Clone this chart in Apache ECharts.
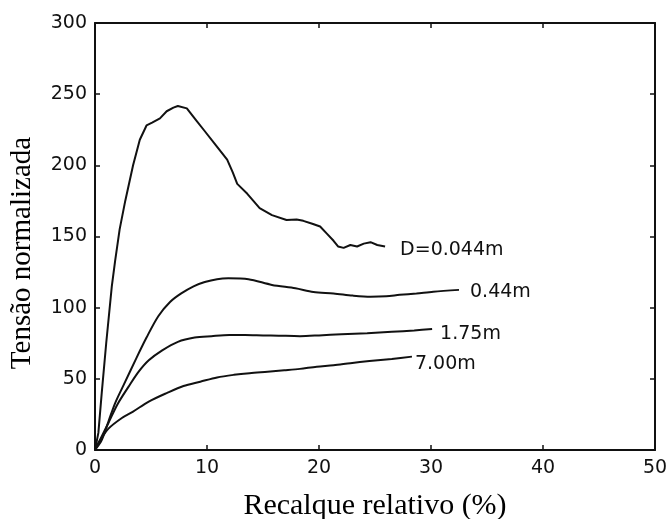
<!DOCTYPE html>
<html>
<head>
<meta charset="utf-8">
<script src="https://cdn.jsdelivr.net/npm/echarts@6/dist/echarts.min.js"></script>
<style>
  html, body { margin: 0; padding: 0; background: #ffffff; }
  #chart { width: 670px; height: 519px; }
</style>
</head>
<body>
<div id="chart"></div>
<script>
// Axis settings
const xTicks = [0, 10, 20, 30, 40, 50];
const yTicks = [0, 50, 100, 150, 200, 250, 300];
const xTitle = 'Recalque relativo (%)';
const yTitle = 'Tensão normalizada';

// Series names (curve labels)
const seriesNames = ['D=0.044m', '0.44m', '1.75m', '7.00m'];

// D = 0.044 m  [relative settlement %, normalized stress]
const curveD0044 = [
  [0,0],[0.3,12],[0.6,40],[1.0,75],[1.5,115],[1.8,133],[2.2,155],[2.7,175],[3.4,200],
  [4.0,218],[4.6,228],[5.1,230],[5.8,233],[6.4,238],[7.0,240.5],[7.4,241.7],[8.2,240],
  [9.0,232],[9.7,225],[10.8,214],[11.8,204],[12.3,195],[12.7,187],[13.6,180],[14.7,170],
  [15.8,165],[17.1,161.6],[18.0,162],[18.6,161],[19.4,159],[20.1,157],[20.7,152],
  [21.3,147],[21.7,143],[22.2,142],[22.8,144],[23.4,143],[24.0,145],[24.6,146],
  [25.2,144],[25.9,143]
];
// D = 0.44 m
const curve044 = [
  [0,0],[0.6,7],[1.2,20],[1.8,33],[2.7,48],[3.6,63],[4.6,79],[5.65,94],[6.7,104],
  [7.7,110],[8.8,115],[9.8,118],[10.9,120],[11.9,120.6],[13.7,120],[15.8,116],
  [17.9,113.6],[19.5,111],[21.3,110],[23.0,108.5],[24.6,107.7],[26.0,108],[27.2,109],
  [28.7,110],[30.2,111.2],[32.5,112.5]
];
// D = 1.75 m
const curve175 = [
  [0,0],[0.5,8],[1.2,19],[2.0,32],[3.0,44.5],[3.9,55],[4.8,63],[6.0,70],[7.4,76],
  [8.9,79],[10.4,80],[12.0,80.8],[13.4,80.8],[15.0,80.5],[16.4,80.3],[18.3,80],
  [20.0,80.5],[22.0,81.3],[24.3,82],[26.5,83],[28.5,84],[30.1,85]
];
// D = 7.00 m
const curve700 = [
  [0,0],[0.4,6],[1.2,15],[2.4,22.5],[3.4,27],[4.8,34],[6.4,40],[7.9,45],[9.4,48],
  [10.9,51],[12.4,52.8],[13.8,54],[15.4,55],[16.9,56],[18.3,57],[19.8,58.5],[21.3,59.5],
  [22.8,61],[24.5,62.5],[26.5,64],[28.3,65.6]
];

const curves = [curveD0044, curve044, curve175, curve700];
const labelDistance = [15, 11, 8, 3];
const labelOffsetY = [4, 2, 5, 7];
const smoothness = [false, 0.3, 0.3, 0.3];

const chart = echarts.init(document.getElementById('chart'), null, { renderer: 'canvas' });

const ink = '#111111';
const tickFont = { fontFamily: 'DejaVu Sans', fontSize: 19, color: ink };

function baseAxis(extra) {
  return Object.assign({
    type: 'value',
    axisLine: { show: true, onZero: false, lineStyle: { color: ink, width: 2 } },
    axisTick: { show: true, inside: true, length: 5, lineStyle: { color: ink, width: 1.5 } },
    splitLine: { show: false }
  }, extra);
}

const option = {
  backgroundColor: '#ffffff',
  animation: false,
  grid: { left: 95, right: 15, top: 23, bottom: 69, containLabel: false, outerBoundsMode: 'none' },
  xAxis: [
    baseAxis({
      position: 'bottom',
      min: xTicks[0], max: xTicks[xTicks.length - 1], interval: xTicks[1] - xTicks[0],
      axisLabel: Object.assign({ margin: 9 }, tickFont),
      name: xTitle,
      nameLocation: 'middle',
      nameGap: 41,
      nameTextStyle: { fontFamily: 'Liberation Serif', fontSize: 30, color: '#000' }
    }),
    baseAxis({
      position: 'top',
      min: xTicks[0], max: xTicks[xTicks.length - 1], interval: xTicks[1] - xTicks[0],
      axisLabel: { show: false }
    })
  ],
  yAxis: [
    baseAxis({
      position: 'left',
      min: yTicks[0], max: yTicks[yTicks.length - 1], interval: yTicks[1] - yTicks[0],
      axisLabel: Object.assign({ margin: 8 }, tickFont)
    }),
    baseAxis({
      position: 'right',
      min: yTicks[0], max: yTicks[yTicks.length - 1], interval: yTicks[1] - yTicks[0],
      axisLabel: { show: false }
    })
  ],
  graphic: [{
    type: 'text',
    x: 22, y: 253,
    rotation: Math.PI / 2,
    style: {
      text: yTitle,
      font: '29px "Liberation Serif"',
      fill: '#000',
      textAlign: 'center',
      textVerticalAlign: 'middle'
    }
  }],
  series: curves.map((c, i) => ({
    name: seriesNames[i],
    type: 'line',
    data: c,
    xAxisIndex: 0,
    yAxisIndex: 0,
    showSymbol: false,
    symbol: 'none',
    smooth: smoothness[i],
    lineStyle: { color: ink, width: 2 },
    endLabel: {
      show: true,
      formatter: seriesNames[i],
      distance: labelDistance[i],
      offset: [0, labelOffsetY[i]],
      fontFamily: 'DejaVu Sans',
      fontSize: 19,
      color: ink
    }
  }))
};

chart.setOption(option);
</script>
</body>
</html>
